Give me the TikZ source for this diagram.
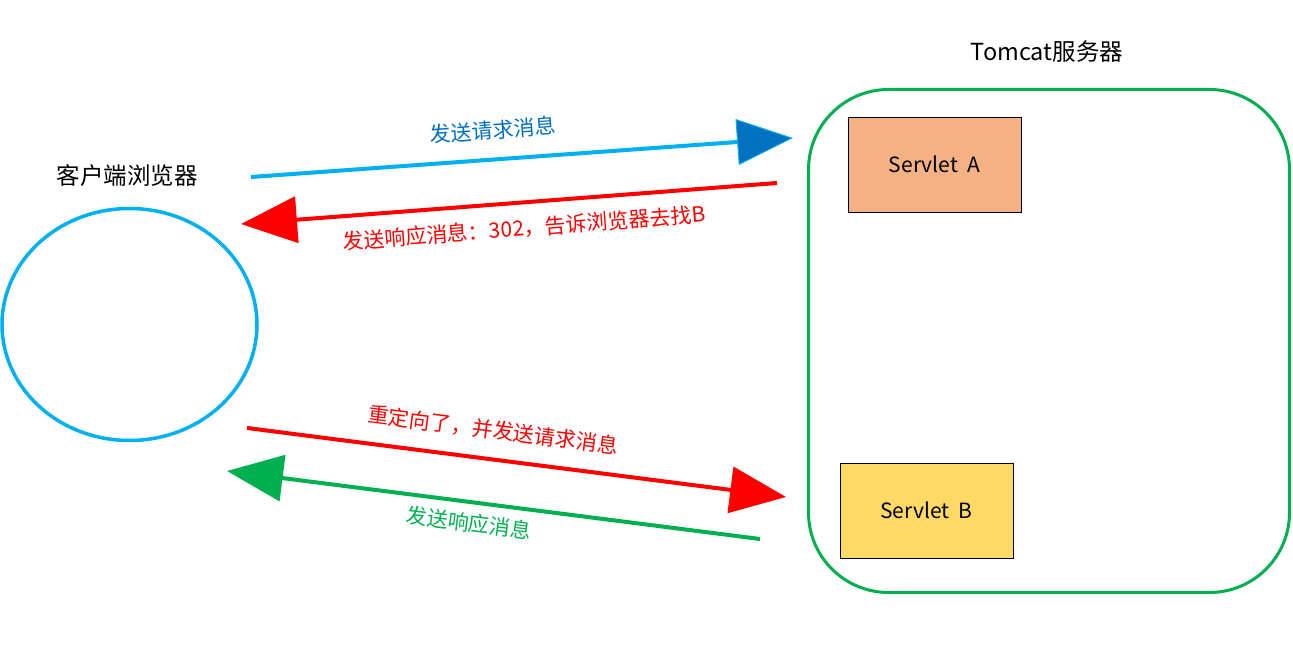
\documentclass[tikz,border=0pt]{standalone}
\usepackage{fontspec}
\setmainfont{Noto Sans CJK SC}
\usetikzlibrary{arrows.meta,shapes.geometric}
\definecolor{lblue}{HTML}{00B0F0}
\definecolor{dblue}{HTML}{0070C0}
\definecolor{rred}{HTML}{FF0000}
\definecolor{ggreen}{HTML}{00B050}
\definecolor{orangef}{HTML}{F4B183}
\definecolor{yellowf}{HTML}{FFD966}
\tikzset{
  msg/.style={line width=4pt},
  head/.style={-{Triangle[length=56pt,width=46pt,#1]}},
  servletbox/.style={draw=black,line width=0.8pt,minimum width=173pt,minimum height=95pt,inner sep=0pt,font=\fontsize{21}{25}\selectfont},
  lbl/.style={font=\fontsize{21}{25}\selectfont,inner sep=0pt},
  title/.style={font=\fontsize{23.5}{27}\selectfont,inner sep=0pt}
}
\begin{document}
\begin{tikzpicture}[x=1pt,y=-1pt]
\useasboundingbox (0,0) rectangle (1293,652);
% client
\node[draw=lblue,line width=3.5pt,ellipse,minimum width=255pt,minimum height=232pt,inner sep=0pt] (client) at (129.5,324.5) {};
\node[title] (clientlbl) at (127,176) {客户端浏览器};
% server
\node[draw=ggreen,line width=3pt,rounded corners=80pt,minimum width=481pt,minimum height=503pt,inner sep=0pt] (server) at (1049,341) {};
\node[title] (serverlbl) at (1047,52) {Tomcat服务器};
\node[servletbox,fill=orangef] (sa) at (934.5,164.5) {Servlet\ \ A};
\node[servletbox,fill=yellowf] (sb) at (926.5,510.5) {Servlet\ \ B};
% connector endpoints
\coordinate (a1s) at (251,177); \coordinate (a1e) at (793,138);
\coordinate (a2s) at (777,183); \coordinate (a2e) at (241,224);
\coordinate (a3s) at (247,428); \coordinate (a3e) at (786,497);
\coordinate (a4s) at (760,539); \coordinate (a4e) at (227,471);
\draw[msg,lblue,head={fill=dblue,color=lblue,line width=1pt}] (a1s) -- (a1e);
\draw[msg,rred,head={}] (a2s) -- (a2e);
\draw[msg,rred,head={}] (a3s) -- (a3e);
\draw[msg,ggreen,head={}] (a4s) -- (a4e);
% labels
\node[lbl,text=dblue,rotate=4.2] (l1) at (493,130) {发送请求消息};
\node[lbl,text=rred,rotate=4.4] (l2) at (524,228) {发送响应消息：302，告诉浏览器去找B};
\node[lbl,text=rred,rotate=-7.3] (l3) at (493,430) {重定向了，并发送请求消息};
\node[lbl,text=ggreen,rotate=-7.3] (l4) at (469,523) {发送响应消息};
\end{tikzpicture}
\end{document}
